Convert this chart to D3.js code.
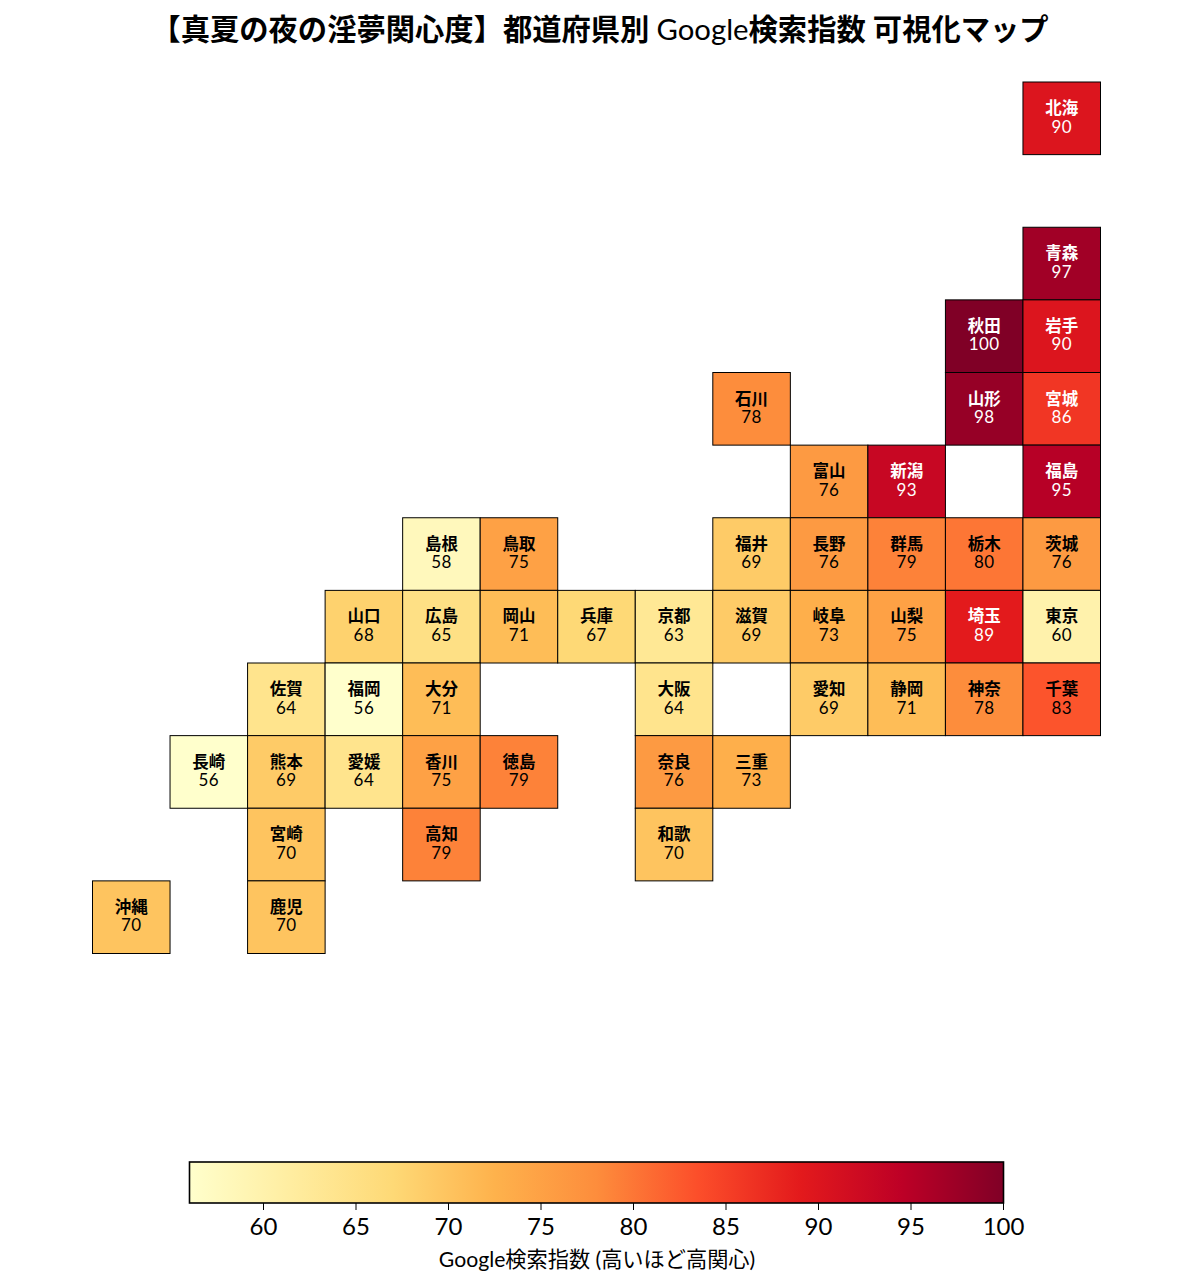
<!DOCTYPE html>
<html>
<head>
<meta charset="utf-8">
<script src="https://cdn.jsdelivr.net/npm/d3@7"></script>
<style>
body { margin: 0; background: #fff; }
text { font-family: Lato, "Noto Sans CJK JP", sans-serif; }
</style>
</head>
<body>
<svg width="1193" height="1287"></svg>
<script>
var names = ['北海', '青森', '秋田', '岩手', '山形', '宮城', '石川', '富山', '新潟', '福島',
    '島根', '鳥取', '福井', '長野', '群馬', '栃木', '茨城',
    '山口', '広島', '岡山', '兵庫', '京都', '滋賀', '岐阜', '山梨', '埼玉', '東京',
    '佐賀', '福岡', '大分', '大阪', '愛知', '静岡', '神奈', '千葉',
    '長崎', '熊本', '愛媛', '香川', '徳島', '奈良', '三重',
    '宮崎', '高知', '和歌', '沖縄', '鹿児'];
var values = [90, 97, 100, 90, 98, 86, 78, 76, 93, 95,
    58, 75, 69, 76, 79, 80, 76,
    68, 65, 71, 67, 63, 69, 73, 75, 89, 60,
    64, 56, 71, 64, 69, 71, 78, 83,
    56, 69, 64, 75, 79, 76, 73,
    70, 79, 70, 70, 70];
// tile grid, column and row of each prefecture
var gridCols = [12, 12, 11, 12, 11, 12, 8, 9, 10, 12,
    4, 5, 8, 9, 10, 11, 12,
    3, 4, 5, 6, 7, 8, 9, 10, 11, 12,
    2, 3, 4, 7, 9, 10, 11, 12,
    1, 2, 3, 4, 5, 7, 8,
    2, 4, 7, 0, 2];
var gridRows = [0, 2, 3, 3, 4, 4, 4, 5, 5, 5,
    6, 6, 6, 6, 6, 6, 6,
    7, 7, 7, 7, 7, 7, 7, 7, 7, 7,
    8, 8, 8, 8, 8, 8, 8, 8,
    9, 9, 9, 9, 9, 9, 9,
    10, 10, 10, 11, 11];
var colorTicks = [60, 65, 70, 75, 80, 85, 90, 95, 100];
var ylOrRd = ['#ffffcc', '#ffeda0', '#fed976', '#feb24c', '#fd8d3c', '#fc4e2a', '#e31a1c', '#bd0026', '#800026'];

var svg = d3.select('svg');

var vMin = 56, vMax = 100;
var color = d3.scaleLinear()
    .domain(ylOrRd.map(function (d, i) { return vMin + (vMax - vMin) * i / (ylOrRd.length - 1); }))
    .range(ylOrRd);

var x = d3.scaleLinear().domain([0, 13]).range([92.5, 1100.5]);
var y = d3.scaleLinear().domain([0, 12]).range([82, 953.5]);

var tiles = d3.range(names.length).map(function (i) {
    return { name: names[i], value: values[i], col: gridCols[i], row: gridRows[i] };
});

var title = svg.append('text')
    .attr('x', 600)
    .attr('y', 40)
    .attr('text-anchor', 'middle')
    .style('font-size', '29.3px')
    .style('font-weight', 700);
title.append('tspan').text('【真夏の夜の淫夢関心度】都道府県別 ');
title.append('tspan').style('font-weight', 400).text('Google');
title.append('tspan').text('検索指数 可視化マップ');

var tile = svg.append('g')
    .selectAll('g')
    .data(tiles)
    .join('g')
    .attr('transform', function (d) { return 'translate(' + x(d.col) + ',' + y(d.row) + ')'; });

tile.append('rect')
    .attr('width', x(1) - x(0))
    .attr('height', y(1) - y(0))
    .attr('fill', function (d) { return color(d.value); })
    .attr('stroke', '#000')
    .attr('stroke-width', 1);

tile.append('text')
    .attr('x', (x(1) - x(0)) / 2)
    .attr('y', 32)
    .attr('text-anchor', 'middle')
    .attr('fill', function (d) { return d.value >= 85 ? '#fff' : '#000'; })
    .style('font-size', '16.5px')
    .style('font-weight', 700)
    .text(function (d) { return d.name; });

tile.append('text')
    .attr('x', (x(1) - x(0)) / 2)
    .attr('y', 50.5)
    .attr('text-anchor', 'middle')
    .attr('fill', function (d) { return d.value >= 85 ? '#fff' : '#000'; })
    .style('font-size', '17px')
    .style('letter-spacing', '0.4px')
    .text(function (d) { return d.value; });

// colorbar
var barX = d3.scaleLinear().domain([vMin, vMax]).range([189.5, 1003.5]);
var barTop = 1162, barBottom = 1203;

var grad = svg.append('defs').append('linearGradient').attr('id', 'bar');
grad.selectAll('stop')
    .data(ylOrRd)
    .join('stop')
    .attr('offset', function (d, i) { return i / (ylOrRd.length - 1); })
    .attr('stop-color', function (d) { return d; });

svg.append('rect')
    .attr('x', barX(vMin))
    .attr('y', barTop)
    .attr('width', barX(vMax) - barX(vMin))
    .attr('height', barBottom - barTop)
    .attr('fill', 'url(#bar)')
    .attr('stroke', '#000')
    .attr('stroke-width', 1.6);

var axis = svg.append('g')
    .attr('transform', 'translate(-0.5,' + barBottom + ')')
    .call(d3.axisBottom(barX).tickValues(colorTicks).tickSize(7).tickPadding(8).tickFormat(d3.format('d')));
axis.select('.domain').remove();
axis.selectAll('text').style('font-size', '24px').style('font-family', 'Lato, sans-serif').attr('fill', '#000');

svg.append('text')
    .attr('x', 597)
    .attr('y', 1267)
    .attr('text-anchor', 'middle')
    .style('font-size', '21.2px')
    .text('Google検索指数 (高いほど高関心)');
</script>
</body>
</html>
